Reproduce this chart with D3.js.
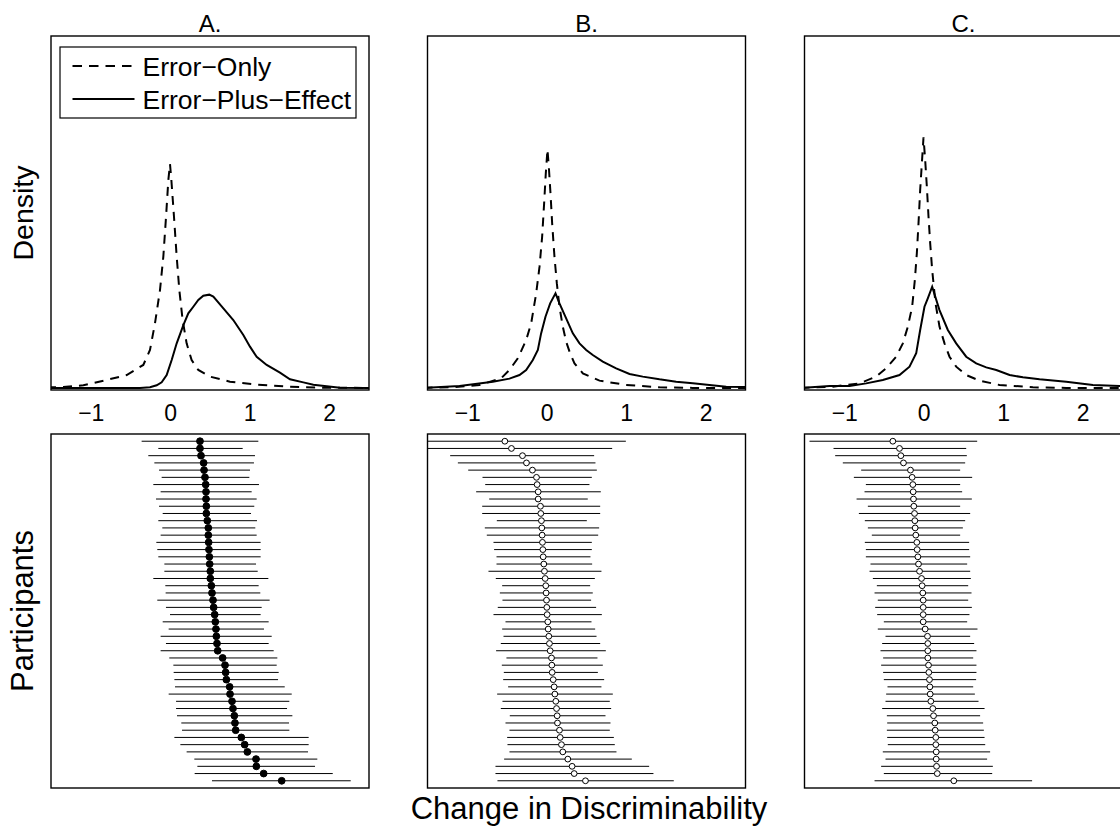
<!DOCTYPE html>
<html><head><meta charset="utf-8">
<script src="https://cdn.jsdelivr.net/npm/d3@7"></script>
<style>body{margin:0;background:#fff}svg{display:block}text{font-family:"Liberation Sans",Arial,Helvetica,sans-serif;fill:#000}</style>
</head><body>
<script>
// ---------------- DATA ----------------
const panelTitles = ["A.", "B.", "C."];
const xTicks = [-1, 0, 1, 2];
const seriesNames = ["Error\u2212Only", "Error\u2212Plus\u2212Effect"];

// Density curves: [x, density]
const densErrA = [[-1.55,0.006],[-1.345,0.010],[-1.093,0.027],[-0.800,0.080],[-0.548,0.129],[-0.339,0.229],[-0.255,0.378],[-0.192,0.643],[-0.129,0.974],[-0.087,1.306],[-0.053,1.703],[-0.024,2.068],[-0.003,2.227],[0.014,2.068],[0.047,1.703],[0.081,1.306],[0.114,0.974],[0.156,0.676],[0.206,0.444],[0.269,0.278],[0.353,0.179],[0.500,0.113],[0.751,0.063],[1.087,0.033],[1.506,0.013],[1.925,0.003],[2.6,0.0]];
const densEffA = [[-1.55,0],[-0.674,0],[-0.381,0.001],[-0.255,0.007],[-0.171,0.027],[-0.108,0.056],[-0.045,0.129],[0.018,0.278],[0.081,0.444],[0.165,0.626],[0.227,0.742],[0.290,0.808],[0.353,0.875],[0.416,0.918],[0.491,0.928],[0.542,0.908],[0.668,0.792],[0.793,0.676],[0.919,0.527],[1.003,0.411],[1.087,0.311],[1.213,0.229],[1.380,0.152],[1.506,0.086],[1.674,0.056],[1.800,0.033],[1.968,0.017],[2.135,0.003],[2.6,0]];
const densErrB = [[-1.55,0.003],[-1.182,0.007],[-0.846,0.030],[-0.574,0.096],[-0.469,0.179],[-0.364,0.295],[-0.259,0.477],[-0.196,0.643],[-0.133,0.941],[-0.091,1.206],[-0.058,1.504],[-0.033,1.836],[-0.012,2.134],[0.009,2.372],[0.026,2.200],[0.047,1.935],[0.068,1.637],[0.097,1.306],[0.127,1.040],[0.160,0.808],[0.202,0.610],[0.244,0.461],[0.294,0.345],[0.349,0.245],[0.454,0.146],[0.663,0.073],[0.999,0.030],[1.418,0.007],[1.837,0.001],[2.6,0]];
const densEffB = [[-1.55,0.0],[-1.098,0.020],[-0.678,0.063],[-0.469,0.093],[-0.343,0.129],[-0.259,0.179],[-0.175,0.278],[-0.112,0.378],[-0.071,0.543],[-0.016,0.709],[0.043,0.842],[0.110,0.941],[0.160,0.842],[0.244,0.693],[0.328,0.543],[0.412,0.444],[0.496,0.378],[0.579,0.328],[0.705,0.262],[0.873,0.195],[1.041,0.139],[1.208,0.113],[1.418,0.086],[1.628,0.063],[1.837,0.046],[2.047,0.030],[2.257,0.013],[2.6,0.010]];
const densErrC = [[-1.55,0.0],[-1.143,0.013],[-0.808,0.046],[-0.599,0.113],[-0.473,0.195],[-0.347,0.311],[-0.263,0.444],[-0.200,0.610],[-0.146,0.808],[-0.112,1.074],[-0.087,1.339],[-0.066,1.637],[-0.045,1.968],[-0.024,2.233],[-0.003,2.492],[0.018,2.266],[0.039,2.001],[0.060,1.703],[0.081,1.438],[0.106,1.173],[0.148,0.842],[0.198,0.610],[0.261,0.444],[0.324,0.311],[0.408,0.212],[0.534,0.129],[0.702,0.073],[0.953,0.030],[1.373,0.007],[1.792,0.001],[2.6,0]];
const densEffC = [[-1.55,0],[-1.185,0.020],[-0.934,0.020],[-0.724,0.046],[-0.515,0.080],[-0.305,0.129],[-0.179,0.212],[-0.095,0.345],[-0.045,0.577],[0.009,0.808],[0.051,0.891],[0.106,1.007],[0.198,0.775],[0.303,0.577],[0.408,0.444],[0.534,0.311],[0.660,0.245],[0.786,0.205],[0.912,0.179],[1.080,0.129],[1.247,0.106],[1.457,0.086],[1.792,0.063],[2.128,0.030],[2.463,0.020],[2.6,0.018]];

// Participant estimates and intervals (sorted by estimate)
const estA = [0.374,0.374,0.387,0.420,0.425,0.437,0.446,0.450,0.450,0.454,0.454,0.466,0.479,0.479,0.483,0.487,0.492,0.496,0.504,0.504,0.517,0.525,0.538,0.546,0.559,0.567,0.575,0.580,0.588,0.597,0.659,0.689,0.697,0.706,0.747,0.752,0.777,0.789,0.806,0.814,0.823,0.894,0.936,0.970,1.079,1.083,1.175,1.402];
const lowA = [-0.360,-0.150,-0.276,-0.200,-0.141,-0.108,-0.213,-0.121,-0.179,-0.141,-0.095,-0.150,-0.100,-0.121,-0.175,-0.163,-0.150,-0.074,-0.074,-0.213,-0.062,-0.058,-0.163,-0.054,-0.003,-0.095,-0.020,-0.121,-0.054,-0.121,-0.012,0.039,0.043,0.052,0.060,-0.020,0.073,0.073,0.085,0.139,0.148,0.052,0.127,0.206,0.303,0.341,0.307,0.525];
const highA = [1.108,0.911,1.066,1.053,1.003,0.995,1.116,1.024,1.087,1.057,1.016,1.091,1.070,1.087,1.137,1.137,1.137,1.079,1.100,1.234,1.112,1.133,1.250,1.150,1.137,1.238,1.179,1.276,1.238,1.301,1.347,1.339,1.364,1.356,1.440,1.528,1.498,1.469,1.536,1.494,1.498,1.741,1.741,1.733,1.850,1.821,2.044,2.270];

const estB = [-0.527,-0.444,-0.305,-0.255,-0.180,-0.129,-0.121,-0.108,-0.108,-0.079,-0.075,-0.067,-0.062,-0.058,-0.054,-0.049,-0.045,-0.037,-0.029,-0.020,-0.012,-0.008,-0.003,0.001,0.005,0.013,0.018,0.026,0.034,0.043,0.060,0.064,0.068,0.081,0.093,0.102,0.114,0.123,0.131,0.135,0.160,0.169,0.185,0.202,0.265,0.319,0.345,0.487];
const lowB = [-1.75,-1.62,-1.215,-1.118,-0.988,-0.808,-0.774,-0.888,-0.724,-0.812,-0.812,-0.628,-0.779,-0.754,-0.670,-0.662,-0.632,-0.632,-0.733,-0.641,-0.561,-0.590,-0.557,-0.616,-0.670,-0.519,-0.561,-0.544,-0.578,-0.637,-0.507,-0.565,-0.540,-0.548,-0.486,-0.624,-0.557,-0.578,-0.465,-0.519,-0.469,-0.498,-0.494,-0.469,-0.536,-0.645,-0.645,-0.620];
const highB = [0.995,0.823,0.596,0.613,0.630,0.567,0.537,0.680,0.516,0.672,0.672,0.504,0.659,0.647,0.567,0.567,0.550,0.571,0.688,0.605,0.546,0.579,0.558,0.621,0.693,0.563,0.609,0.626,0.672,0.743,0.638,0.705,0.643,0.722,0.688,0.831,0.793,0.810,0.739,0.802,0.793,0.844,0.856,0.877,1.070,1.288,1.342,1.598];

const estC = [-0.389,-0.305,-0.288,-0.255,-0.167,-0.146,-0.137,-0.133,-0.129,-0.125,-0.116,-0.112,-0.108,-0.100,-0.087,-0.083,-0.074,-0.066,-0.053,-0.028,-0.020,-0.012,-0.007,-0.007,-0.007,-0.007,0.018,0.047,0.051,0.051,0.051,0.060,0.064,0.072,0.077,0.081,0.089,0.114,0.123,0.139,0.144,0.152,0.152,0.157,0.157,0.161,0.170,0.378];
const lowC = [-1.437,-1.135,-1.114,-1.018,-0.787,-0.879,-0.728,-0.745,-0.845,-0.703,-0.816,-0.741,-0.703,-0.653,-0.741,-0.728,-0.728,-0.670,-0.682,-0.640,-0.590,-0.619,-0.578,-0.611,-0.586,-0.502,-0.578,-0.481,-0.523,-0.544,-0.511,-0.536,-0.511,-0.502,-0.456,-0.473,-0.481,-0.523,-0.464,-0.460,-0.464,-0.460,-0.452,-0.515,-0.481,-0.536,-0.502,-0.619];
const highC = [0.672,0.534,0.542,0.521,0.458,0.609,0.458,0.483,0.605,0.458,0.584,0.521,0.492,0.458,0.571,0.571,0.584,0.546,0.584,0.592,0.559,0.601,0.559,0.605,0.575,0.546,0.676,0.584,0.634,0.663,0.622,0.663,0.663,0.659,0.622,0.643,0.689,0.765,0.709,0.747,0.756,0.765,0.773,0.835,0.797,0.869,0.861,1.363];

// ---------------- LAYOUT ----------------
const W = 1120, H = 832;
const panelX = [51, 427.5, 804.5];
const pw = 318, ph = 354;
const topY = 36, botY = 434;
const FONT = '"Liberation Sans",Arial,Helvetica,sans-serif';

const densities = [[densErrA, densEffA], [densErrB, densEffB], [densErrC, densEffC]];
const forests = [[estA, lowA, highA], [estB, lowB, highB], [estC, lowC, highC]];

const svg = d3.select("body").append("svg").attr("width", W).attr("height", H);
const defs = svg.append("defs");
defs.append("clipPath").attr("id", "clip").append("rect").attr("x", 0).attr("y", 0).attr("width", pw).attr("height", ph);

const x = d3.scaleLinear().domain([-1.5, 2.5]).range([0, pw]);
const yDen = d3.scaleLinear().domain([-0.02, 3.5]).range([ph, 0]);
const yRow = d3.scaleLinear().domain([0, 49]).range([0, ph]);

const line = d3.line().x(d => x(d[0])).y(d => yDen(d[1]));

panelTitles.forEach((t, p) => {
  // ---- Top density panel ----
  const gt = svg.append("g").attr("transform", `translate(${panelX[p]},${topY})`);
  const gc = gt.append("g").attr("clip-path", "url(#clip)");
  gc.append("path").datum(densities[p][0]).attr("d", line)
    .attr("fill", "none").attr("stroke", "#000").attr("stroke-width", 2)
    .attr("stroke-dasharray", "9,7");
  gc.append("path").datum(densities[p][1]).attr("d", line)
    .attr("fill", "none").attr("stroke", "#000").attr("stroke-width", 2);
  gt.append("rect").attr("x", 0).attr("y", 0).attr("width", pw).attr("height", ph)
    .attr("fill", "none").attr("stroke", "#000").attr("stroke-width", 1.4);

  const ax = gt.append("g").attr("transform", `translate(0,${ph})`)
    .call(d3.axisBottom(x).tickValues(xTicks).tickFormat(d3.format("d")).tickSize(0).tickPadding(15));
  ax.attr("font-size", 23).attr("font-family", FONT);
  ax.select(".domain").remove();
  ax.selectAll("text").attr("font-size", 23).style("font-size", "23px").attr("fill", "#000");

  gt.append("text").attr("x", pw / 2).attr("y", -4.5).attr("text-anchor", "middle")
    .attr("font-size", 24).style("font-size", "24px").text(t);

  // ---- Bottom forest panel ----
  const gb = svg.append("g").attr("transform", `translate(${panelX[p]},${botY})`);
  const gbc = gb.append("g").attr("clip-path", "url(#clip)");
  const [est, lo, hi] = forests[p];
  gbc.selectAll("line.ci").data(est).join("line").attr("class", "ci")
    .attr("x1", (d, i) => x(lo[i])).attr("x2", (d, i) => x(hi[i]))
    .attr("y1", (d, i) => yRow(i + 1)).attr("y2", (d, i) => yRow(i + 1))
    .attr("stroke", "#000").attr("stroke-width", 1);
  gbc.selectAll("circle").data(est).join("circle")
    .attr("cx", d => x(d)).attr("cy", (d, i) => yRow(i + 1))
    .attr("r", p === 0 ? 3.4 : 2.9)
    .attr("fill", p === 0 ? "#000" : "#fff")
    .attr("stroke", "#000").attr("stroke-width", 1);
  gb.append("rect").attr("x", 0).attr("y", 0).attr("width", pw).attr("height", ph)
    .attr("fill", "none").attr("stroke", "#000").attr("stroke-width", 1.4);
});

// ---- Legend (panel A) ----
const lg = svg.append("g").attr("transform", `translate(${panelX[0]},${topY})`);
lg.append("rect").attr("x", 9).attr("y", 11).attr("width", 296).attr("height", 71)
  .attr("fill", "#fff").attr("stroke", "#000").attr("stroke-width", 1.2);
seriesNames.forEach((s, i) => {
  const yy = 30 + i * 33;
  lg.append("line").attr("x1", 21.5).attr("x2", 83.5).attr("y1", yy).attr("y2", yy)
    .attr("stroke", "#000").attr("stroke-width", 2)
    .attr("stroke-dasharray", i === 0 ? "9.5,7" : null);
  lg.append("text").attr("x", 91.5).attr("y", yy + 10).style("font-size", "26.5px").text(s);
});

// ---- Axis titles ----
svg.append("text").attr("transform", "translate(33,213) rotate(-90)").attr("text-anchor", "middle")
  .style("font-size", "28.5px").text("Density");
svg.append("text").attr("transform", "translate(33,611) rotate(-90)").attr("text-anchor", "middle")
  .style("font-size", "31px").text("Participants");
svg.append("text").attr("x", 589).attr("y", 819).attr("text-anchor", "middle")
  .style("font-size", "31px").text("Change in Discriminability");
</script>
</body></html>
